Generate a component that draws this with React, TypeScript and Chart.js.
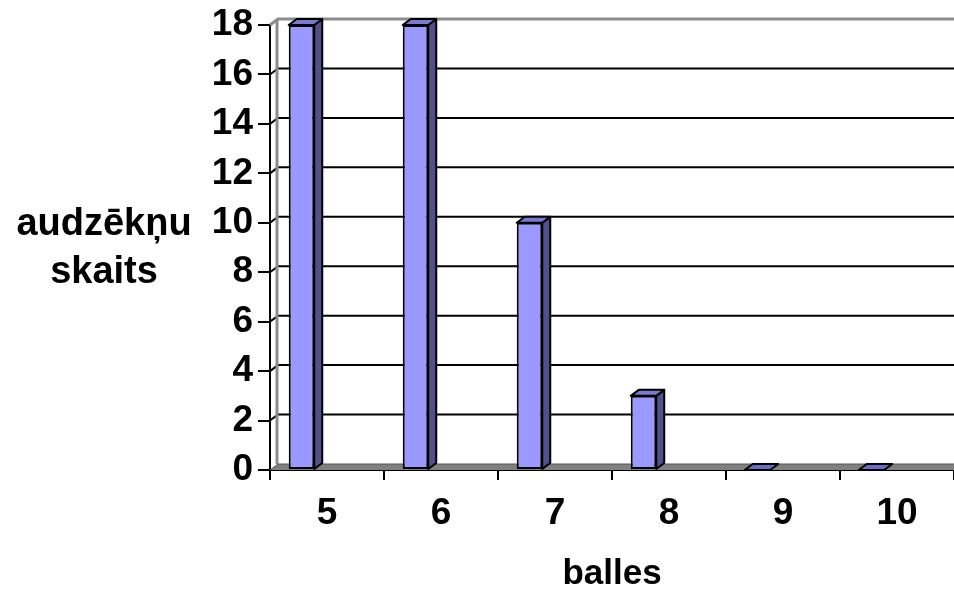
import React, { useEffect, useRef } from "react";
import { Chart, registerables } from "chart.js";

Chart.register(...registerables);

const categories = ["5", "6", "7", "8", "9", "10"];
const studentCounts = [18, 18, 10, 3, 0, 0];
const spacerValues = [null, null, null, null, null, null];
const yTitleLines = ["audzēkņu", "skaits"];
const xTitle = "balles";

const DX = 8;
const DY = 6;
const FAMILY = "'Liberation Sans', Arial, sans-serif";

const depthPlugin = {
  id: "depth3d",
  beforeDatasetsDraw(chart: any) {
    const { ctx, chartArea } = chart;
    const ys = chart.scales.y;
    const left = chartArea.left;
    const right = chartArea.right;
    const bottom = ys.getPixelForValue(0);
    const top = ys.getPixelForValue(18);
    ctx.save();
    ctx.strokeStyle = "#000";
    ctx.lineWidth = 2;
    for (let v = 2; v < 18; v += 2) {
      const y = ys.getPixelForValue(v);
      ctx.beginPath();
      ctx.moveTo(left, y);
      ctx.lineTo(left + DX, y - DY);
      ctx.lineTo(right, y - DY);
      ctx.stroke();
    }
    ctx.strokeStyle = "#8c8c8c";
    ctx.lineWidth = 3;
    ctx.beginPath();
    ctx.moveTo(left, top);
    ctx.lineTo(left + DX, top - DY);
    ctx.lineTo(right, top - DY);
    ctx.stroke();
    ctx.beginPath();
    ctx.moveTo(left + DX - 1, top - DY);
    ctx.lineTo(left + DX - 1, bottom - DY);
    ctx.stroke();
    ctx.fillStyle = "#808080";
    ctx.beginPath();
    ctx.moveTo(left, bottom);
    ctx.lineTo(left + DX, bottom - DY);
    ctx.lineTo(right, bottom - DY);
    ctx.lineTo(right, bottom);
    ctx.closePath();
    ctx.fill();
    ctx.strokeStyle = "#555";
    ctx.lineWidth = 1;
    ctx.beginPath();
    ctx.moveTo(left, bottom);
    ctx.lineTo(left + DX, bottom - DY);
    ctx.lineTo(right, bottom - DY);
    ctx.stroke();
    ctx.restore();
  },
  afterDatasetsDraw(chart: any) {
    const { ctx } = chart;
    const meta = chart.getDatasetMeta(0);
    ctx.save();
    ctx.strokeStyle = "#000";
    ctx.lineWidth = 2;
    ctx.lineJoin = "round";
    meta.data.forEach((bar: any) => {
      const { x, y, base, width } = bar.getProps(["x", "y", "base", "width"], true);
      const l = x - width / 2;
      const r = x + width / 2;
      if (base - y > 0.5) {
        ctx.fillStyle = "#50508a";
        ctx.beginPath();
        ctx.moveTo(r, y);
        ctx.lineTo(r + DX, y - DY);
        ctx.lineTo(r + DX, base - DY);
        ctx.lineTo(r, base);
        ctx.closePath();
        ctx.fill();
        ctx.stroke();
      }
      ctx.fillStyle = base - y > 0.5 ? "#7a7ad0" : "#6a6ac8";
      ctx.beginPath();
      ctx.moveTo(l, y);
      ctx.lineTo(l + DX, y - DY);
      ctx.lineTo(r + DX, y - DY);
      ctx.lineTo(r, y);
      ctx.closePath();
      ctx.fill();
      ctx.stroke();
    });
    ctx.restore();
  },
  afterDraw(chart: any) {
    const { ctx } = chart;
    ctx.save();
    ctx.font = "bold 38px " + FAMILY;
    ctx.fillStyle = "#000";
    ctx.textAlign = "center";
    ctx.textBaseline = "alphabetic";
    ctx.fillText(yTitleLines[0], 104, 235);
    ctx.fillText(yTitleLines[1], 104, 283);
    ctx.restore();
  },
};

export default function App() {
  const ref = useRef<HTMLCanvasElement | null>(null);

  useEffect(() => {
    document.body.style.margin = "0";
    const canvas = ref.current;
    if (!canvas) return;
    const tickFont = { family: FAMILY, size: 37, weight: "bold" as const, lineHeight: 1 };
    const titleFont = { family: FAMILY, size: 35, weight: "bold" as const, lineHeight: 1 };
    const chart = new Chart(canvas, {
      type: "bar",
      data: {
        labels: categories,
        datasets: [
          {
            label: "audzēkņu skaits",
            data: studentCounts,
            backgroundColor: "#9999ff",
            borderColor: "#000",
            borderWidth: 2,
            borderSkipped: false,
            categoryPercentage: 0.895,
            barPercentage: 0.5,
          },
          {
            label: "spacer",
            data: spacerValues as any,
            backgroundColor: "rgba(0,0,0,0)",
            categoryPercentage: 0.895,
            barPercentage: 0.5,
          },
        ],
      },
      options: {
        responsive: false,
        animation: false,
        devicePixelRatio: 1,
        layout: { padding: { top: 25, left: 0, right: 0, bottom: 0 } },
        plugins: { legend: { display: false }, tooltip: { enabled: false }, title: { display: false } },
        scales: {
          x: {
            offset: true,
            grid: { offset: true, drawOnChartArea: false, drawTicks: true, tickLength: 10, color: "#000", lineWidth: 2 },
            border: { display: true, color: "#000", width: 2 },
            ticks: { font: tickFont, color: "#000", padding: 15, maxRotation: 0, autoSkip: false },
            title: { display: true, text: xTitle, font: titleFont, color: "#000", padding: { top: 0, bottom: 7 } },
            afterFit: (s: any) => {
              s.height = 129;
              s.paddingLeft = 0;
              s.paddingRight = 0;
            },
          },
          y: {
            min: 0,
            max: 18,
            grid: { drawOnChartArea: false, drawTicks: true, tickLength: 12, color: "#000", lineWidth: 2 },
            border: { display: true, color: "#000", width: 2 },
            ticks: { stepSize: 2, font: tickFont, color: "#000", padding: 5 },
            afterFit: (s: any) => {
              s.width = 270;
              s.paddingTop = 0;
              s.paddingBottom = 0;
            },
          },
        },
      },
      plugins: [depthPlugin],
    });
    return () => chart.destroy();
  }, []);

  return (
    <div style={{ width: 954, height: 599 }}>
      <canvas ref={ref} width={954} height={599} />
    </div>
  );
}
